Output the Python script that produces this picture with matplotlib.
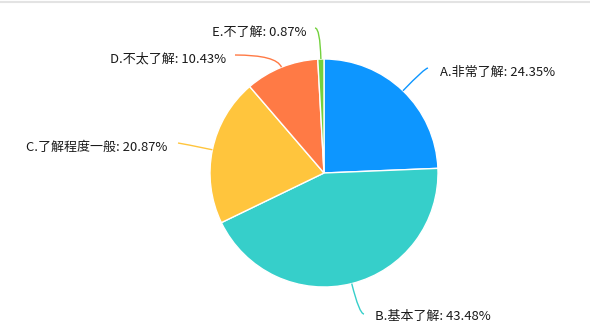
import numpy as np
import matplotlib
matplotlib.use("Agg")
import matplotlib.pyplot as plt
from matplotlib.path import Path
from matplotlib.patches import PathPatch

plt.rcParams['font.family'] = ['Noto Sans CJK SC', 'DejaVu Sans']

categories = ["A.非常了解", "B.基本了解", "C.了解程度一般", "D.不太了解", "E.不了解"]
values = [24.35, 43.48, 20.87, 10.43, 0.87]
colors = ["#0d96ff", "#36cfca", "#ffc53d", "#ff7a45", "#73d13d"]

W, H = 590, 331
fig = plt.figure(figsize=(W / 100, H / 100), dpi=100)
ax = fig.add_axes([0, 0, 1, 1])

cx, cy, R = 324, H - 173, 114
wedges, _ = ax.pie(values, colors=colors, startangle=90, counterclock=False,
                   center=(cx, cy), radius=R, frame=True,
                   wedgeprops=dict(edgecolor='white', linewidth=1))
ax.set_xlim(0, W)
ax.set_ylim(0, H)
ax.set_aspect('equal')
ax.axis('off')

# top border
ax.plot([0, W], [H - 2, H - 2], color='#e3e3e3', linewidth=1.5, solid_capstyle='butt')

# leader line end points (pixel, y from top) and label anchors
ends = [(428, 68), (364, 314), (178, 143), (235, 55), (315, 28)]
text_pos = [(440, 72, 'left'), (375, 316, 'left'), (167, 147, 'right'),
            (226, 59, 'right'), (307, 32, 'right')]

for w, val, name, col, (ex, ey), (tx, ty, ha) in zip(wedges, values, categories, colors, ends, text_pos):
    mid = np.deg2rad((w.theta1 + w.theta2) / 2)
    d = np.array([np.cos(mid), np.sin(mid)])
    p0 = np.array([cx, cy]) + R * d
    p2 = np.array([ex, H - ey])
    t = (p2[1] - p0[1]) / d[1] if abs(d[1]) > 0.3 else 30
    pc = p0 + t * d
    path = Path([p0, pc, p2], [Path.MOVETO, Path.CURVE3, Path.CURVE3])
    ax.add_patch(PathPatch(path, facecolor='none', edgecolor=col, linewidth=1.0))
    ax.text(tx, H - ty, f"{name}: {val:.2f}%", ha=ha, va='center',
            fontsize=9.4, color='#1a1a1a')

fig.savefig("out.png", dpi=100)
